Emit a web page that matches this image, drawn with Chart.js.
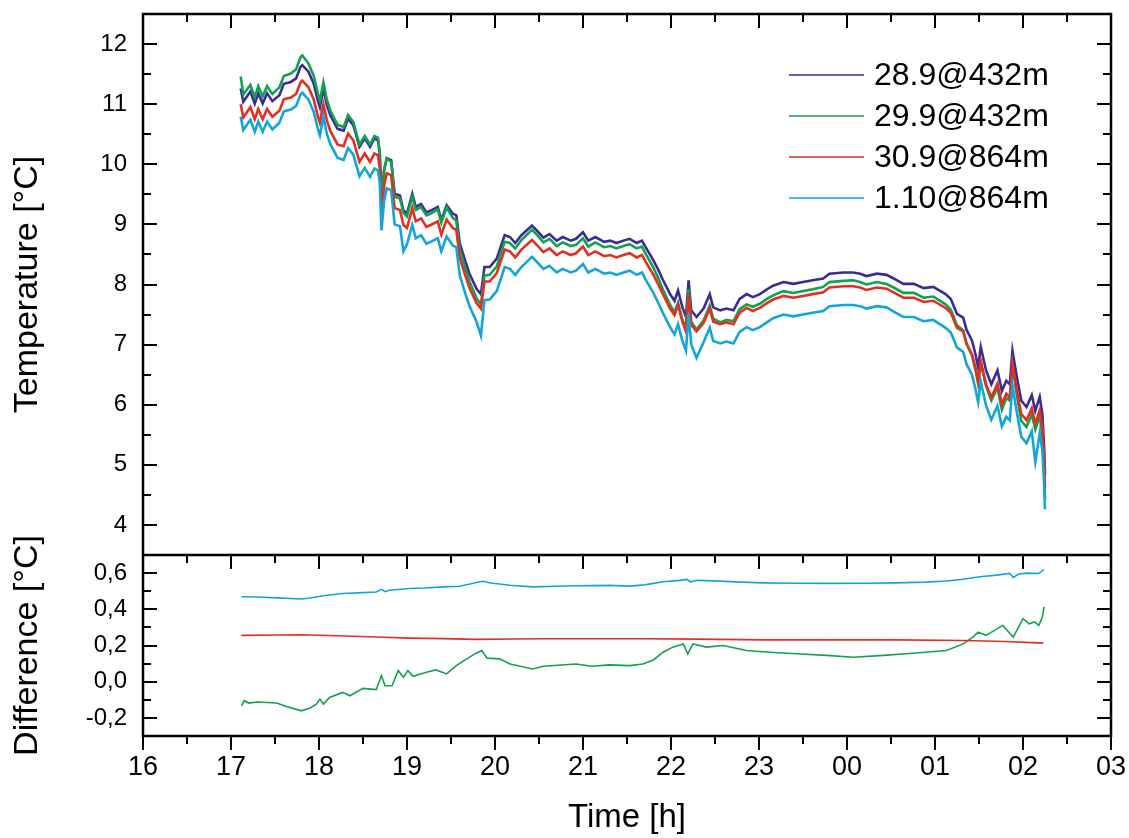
<!DOCTYPE html>
<html>
<head>
<meta charset="utf-8">
<script src="https://cdn.jsdelivr.net/npm/chart.js@4.4.0/dist/chart.umd.min.js"></script>
<style>
html,body{margin:0;padding:0;background:#fff;}
#wrap{position:relative;width:1129px;height:838px;}
canvas{display:block;}
</style>
</head>
<body>
<div id="wrap"><canvas id="c" width="1129" height="838"></canvas></div>
<script>
// ---------- data (hours; values past 24 are after midnight) ----------
const seriesNames = ['28.9@432m', '29.9@432m', '30.9@864m', '1.10@864m'];

const tTemp = [
  17.11,17.14,17.22,17.27,17.31,17.36,17.41,17.47,17.55,17.60,
  17.68,17.74,17.79,17.81,17.88,17.94,17.99,18.01,18.05,18.09,
  18.13,18.21,18.28,18.33,18.39,18.46,18.52,18.58,18.63,18.67,
  18.69,18.71,18.74,18.77,18.82,18.86,18.92,18.96,19.00,19.06,
  19.10,19.16,19.22,19.27,19.35,19.39,19.45,19.52,19.56,19.60,
  19.66,19.71,19.79,19.84,19.88,19.94,20.02,20.11,20.17,20.23,
  20.30,20.42,20.48,20.55,20.62,20.70,20.77,20.86,20.92,21.00,
  21.06,21.14,21.24,21.31,21.38,21.46,21.53,21.61,21.67,21.72,
  21.80,21.86,21.91,21.99,22.04,22.08,22.13,22.17,22.20,22.23,
  22.29,22.37,22.44,22.48,22.56,22.63,22.71,22.78,22.86,22.93,
  23.01,23.09,23.16,23.28,23.39,23.50,23.61,23.73,23.80,23.96,
  24.07,24.15,24.22,24.34,24.45,24.53,24.64,24.76,24.87,24.98,
  25.12,25.18,25.25,25.32,25.36,25.42,25.46,25.49,25.52,25.58,
  25.64,25.71,25.76,25.81,25.85,25.88,25.93,25.98,26.04,26.10,
  26.14,26.19,26.22,26.24,26.25
];

const temp289 = [
  11.26,11.04,11.21,11.01,11.18,11.01,11.18,11.05,11.15,11.34,
  11.37,11.43,11.62,11.65,11.54,11.34,11.04,10.95,11.26,10.98,
  10.81,10.59,10.56,10.76,10.65,10.29,10.43,10.29,10.43,10.40,
  10.20,9.40,9.90,10.10,10.07,9.51,9.48,9.23,9.18,9.51,
  9.29,9.34,9.20,9.23,9.29,9.07,9.32,9.18,9.15,8.68,
  8.40,8.18,7.93,7.84,8.29,8.29,8.43,8.82,8.79,8.69,
  8.82,8.98,8.89,8.78,8.84,8.73,8.79,8.73,8.76,8.87,
  8.73,8.79,8.71,8.73,8.69,8.73,8.76,8.69,8.73,8.60,
  8.40,8.23,8.07,7.84,7.73,7.90,7.62,7.46,8.07,7.57,
  7.46,7.60,7.84,7.62,7.57,7.60,7.57,7.76,7.84,7.79,
  7.84,7.92,7.98,8.04,8.01,8.04,8.07,8.10,8.18,8.20,
  8.20,8.18,8.14,8.18,8.16,8.10,8.01,8.01,7.94,7.96,
  7.84,7.76,7.51,7.45,7.24,7.07,6.84,6.62,6.96,6.57,
  6.34,6.57,6.23,6.40,6.34,6.90,6.46,6.07,5.96,6.16,
  5.90,6.13,5.84,5.29,4.84
];

const temp299 = [
  11.46,11.16,11.32,11.12,11.30,11.13,11.30,11.17,11.28,11.47,
  11.51,11.58,11.78,11.81,11.68,11.47,11.16,11.06,11.36,11.07,
  10.89,10.66,10.62,10.82,10.70,10.33,10.47,10.33,10.47,10.44,
  10.20,9.37,9.92,10.10,10.04,9.46,9.43,9.19,9.13,9.46,
  9.24,9.29,9.15,9.18,9.25,9.03,9.28,9.11,9.06,8.58,
  8.28,8.05,7.77,7.67,8.15,8.16,8.30,8.71,8.69,8.60,
  8.74,8.91,8.82,8.70,8.76,8.64,8.70,8.64,8.66,8.77,
  8.63,8.70,8.62,8.64,8.60,8.64,8.67,8.60,8.63,8.49,
  8.28,8.09,7.91,7.66,7.54,7.70,7.41,7.29,7.92,7.38,
  7.25,7.40,7.65,7.43,7.37,7.41,7.39,7.59,7.67,7.63,
  7.68,7.76,7.82,7.89,7.86,7.89,7.92,7.96,8.04,8.06,
  8.07,8.04,8.00,8.04,8.01,7.95,7.86,7.86,7.78,7.80,
  7.67,7.58,7.32,7.24,7.01,6.82,6.58,6.35,6.69,6.31,
  6.07,6.28,5.92,6.11,6.07,6.65,6.16,5.73,5.63,5.84,
  5.59,5.81,5.48,4.91,4.43
];

const temp309 = [
  11.00,10.78,10.95,10.75,10.92,10.75,10.92,10.79,10.89,11.08,
  11.11,11.17,11.36,11.39,11.28,11.08,10.78,10.69,11.00,10.72,
  10.55,10.33,10.30,10.51,10.40,10.04,10.18,10.04,10.18,10.15,
  9.95,9.15,9.65,9.85,9.82,9.27,9.24,8.99,8.94,9.27,
  9.05,9.10,8.96,8.99,9.05,8.83,9.08,8.94,8.91,8.44,
  8.16,7.94,7.69,7.60,8.05,8.05,8.19,8.58,8.55,8.45,
  8.58,8.74,8.65,8.54,8.60,8.49,8.55,8.49,8.52,8.63,
  8.49,8.55,8.47,8.49,8.45,8.49,8.52,8.45,8.49,8.36,
  8.16,7.99,7.83,7.60,7.49,7.66,7.38,7.22,7.83,7.33,
  7.22,7.36,7.60,7.38,7.34,7.37,7.34,7.53,7.61,7.56,
  7.61,7.69,7.75,7.81,7.78,7.81,7.84,7.87,7.95,7.97,
  7.97,7.95,7.91,7.95,7.93,7.87,7.78,7.78,7.71,7.73,
  7.61,7.53,7.28,7.22,7.01,6.84,6.61,6.39,6.73,6.34,
  6.12,6.35,6.01,6.18,6.12,6.68,6.24,5.85,5.74,5.94,
  5.68,5.91,5.62,5.07,4.62
];

const temp110 = [
  10.79,10.57,10.74,10.54,10.71,10.54,10.71,10.58,10.69,10.88,
  10.91,10.97,11.16,11.19,11.08,10.87,10.57,10.48,10.79,10.50,
  10.33,10.11,10.07,10.27,10.16,9.80,9.94,9.79,9.93,9.90,
  9.70,8.90,9.40,9.60,9.57,9.00,8.97,8.55,8.67,8.99,
  8.77,8.82,8.68,8.71,8.77,8.55,8.80,8.65,8.62,8.15,
  7.86,7.64,7.38,7.15,7.74,7.75,7.89,8.29,8.26,8.16,
  8.29,8.46,8.37,8.26,8.31,8.20,8.26,8.20,8.23,8.34,
  8.20,8.26,8.18,8.20,8.16,8.20,8.23,8.16,8.20,8.06,
  7.86,7.68,7.52,7.29,7.17,7.34,7.06,6.90,7.51,7.00,
  6.78,7.04,7.28,7.06,7.02,7.05,7.02,7.21,7.29,7.24,
  7.29,7.37,7.44,7.50,7.47,7.50,7.53,7.56,7.64,7.66,
  7.66,7.64,7.60,7.64,7.62,7.55,7.46,7.46,7.39,7.41,
  7.28,7.20,6.95,6.88,6.67,6.50,6.26,6.04,6.38,5.99,
  5.75,5.98,5.64,5.80,5.74,6.32,5.87,5.47,5.36,5.56,
  5.05,5.53,5.24,4.67,4.26
];

const tDiffC = [17.12,17.3,17.52,17.8,17.9,18.05,18.27,18.5,18.65,18.71,18.75,18.8,19.03,19.2,19.41,19.6,19.79,19.86,19.95,20.17,20.43,20.7,20.92,21.3,21.53,21.7,21.91,22.1,22.18,22.22,22.3,22.48,22.8,23.05,23.4,23.81,24.2,24.56,24.9,25.13,25.3,25.51,25.7,25.85,25.89,25.95,26.05,26.18,26.24];
const diff110 = [0.469,0.468,0.463,0.457,0.462,0.475,0.487,0.492,0.496,0.51,0.497,0.505,0.515,0.518,0.524,0.527,0.548,0.555,0.545,0.533,0.524,0.527,0.53,0.532,0.528,0.535,0.552,0.56,0.565,0.552,0.56,0.557,0.55,0.546,0.544,0.543,0.544,0.546,0.55,0.556,0.565,0.58,0.589,0.598,0.576,0.595,0.60,0.598,0.62];

const tDiffR = [17.12,17.5,17.8,18.2,18.65,19.03,19.4,19.79,20.2,20.55,21.1,21.68,22.3,23.05,24.0,24.56,25.32,25.8,26.23];
const diff309 = [0.256,0.258,0.259,0.254,0.247,0.241,0.238,0.234,0.236,0.237,0.237,0.237,0.235,0.231,0.231,0.231,0.228,0.222,0.213];

const tDiffG = [17.12,17.15,17.2,17.3,17.41,17.52,17.63,17.8,17.9,17.97,18.01,18.05,18.12,18.27,18.35,18.5,18.65,18.71,18.75,18.83,18.9,18.96,19.01,19.07,19.22,19.33,19.45,19.56,19.68,19.79,19.85,19.91,20.05,20.17,20.43,20.55,20.92,21.1,21.3,21.53,21.68,21.8,21.91,22.02,22.14,22.19,22.25,22.40,22.59,22.86,23.12,23.43,23.81,24.07,24.37,24.75,25.13,25.32,25.43,25.49,25.58,25.77,25.89,26.0,26.07,26.13,26.18,26.22,26.24];
const diff299 = [-0.133,-0.105,-0.118,-0.112,-0.115,-0.118,-0.137,-0.161,-0.145,-0.124,-0.096,-0.124,-0.087,-0.059,-0.078,-0.037,-0.044,0.034,-0.022,-0.022,0.061,0.024,0.061,0.030,0.052,0.065,0.043,0.089,0.126,0.159,0.172,0.13,0.126,0.098,0.070,0.085,0.098,0.085,0.093,0.089,0.098,0.12,0.163,0.191,0.209,0.154,0.209,0.191,0.2,0.172,0.163,0.154,0.144,0.135,0.144,0.157,0.172,0.209,0.246,0.274,0.256,0.311,0.246,0.348,0.32,0.33,0.311,0.357,0.413];

const xTickValues = [16,17,18,19,20,21,22,23,24,25,26,27];
const xTickLabels = ['16','17','18','19','20','21','22','23','00','01','02','03'];
const tempTickValues = [4,5,6,7,8,9,10,11,12];
const diffTickValues = [-0.2,0,0.2,0.4,0.6];

// ---------- styling ----------
const COLORS = ['#3b2b97', '#12a052', '#e0301f', '#14a5d8'];
const FONT = "'Liberation Sans', Arial, sans-serif";

const pts = (ts, vs) => ts.map((t, i) => ({x: t, y: vs[i]}));

const tempSets = [temp289, temp299, temp309, temp110].map((vals, i) => ({
  label: seriesNames[i],
  data: pts(tTemp, vals),
  yAxisID: 'y',
  borderColor: COLORS[i],
  borderWidth: 2.6,
  pointRadius: 0,
  order: 10 - i
}));

const diffSets = [
  {label: 'diff ' + seriesNames[3], data: pts(tDiffC, diff110), color: COLORS[3]},
  {label: 'diff ' + seriesNames[2], data: pts(tDiffR, diff309), color: COLORS[2]},
  {label: 'diff ' + seriesNames[1], data: pts(tDiffG, diff299), color: COLORS[1]}
].map(d => ({
  label: d.label, data: d.data, yAxisID: 'y2', borderColor: d.color,
  borderWidth: 1.6, pointRadius: 0, order: 1
}));

const framePlugin = {
  id: 'frame',
  afterDatasetsDraw(chart) {
    const {ctx, chartArea: a, scales: {x, y, y2}} = chart;
    ctx.save();
    ctx.strokeStyle = '#000';
    ctx.lineCap = 'butt';
    const seg = (x1, y1, x2, y2_) => { ctx.beginPath(); ctx.moveTo(x1, y1); ctx.lineTo(x2, y2_); ctx.stroke(); };
    const MAJ = 14, MIN = 8;
    ctx.lineWidth = 2;
    // x ticks
    xTickValues.forEach((v, i) => {
      const px = Math.round(x.getPixelForValue(v));
      seg(px, y.top, px, y.top + MAJ);
      seg(px, y2.top, px, y2.top + MAJ);
      seg(px, y2.bottom, px, y2.bottom + MAJ);
      if (i < xTickValues.length - 1) {
        const pm = Math.round(x.getPixelForValue((v + xTickValues[i + 1]) / 2));
        seg(pm, y.top, pm, y.top + MIN);
        seg(pm, y2.top, pm, y2.top + MIN);
        seg(pm, y2.bottom, pm, y2.bottom + MIN);
      }
    });
    // y ticks on both sides
    const yTicks = (scale, vals) => {
      vals.forEach((v, i) => {
        const py = Math.round(scale.getPixelForValue(v));
        seg(a.left, py, a.left + MAJ, py);
        seg(a.right, py, a.right - MAJ, py);
        const step = i < vals.length - 1 ? vals[i + 1] - v : vals[1] - vals[0];
        [v - step / 2, v + step / 2].forEach(m => {
          if (i > 0 && m < v) return;
          const pm = Math.round(scale.getPixelForValue(m));
          if (pm <= scale.top + 1 || pm >= scale.bottom - 1) return;
          seg(a.left, pm, a.left + MIN, pm);
          seg(a.right, pm, a.right - MIN, pm);
        });
      });
    };
    yTicks(y, tempTickValues);
    yTicks(y2, diffTickValues);
    // frame
    ctx.lineWidth = 2.5;
    ctx.strokeRect(a.left, a.top, a.right - a.left, a.bottom - a.top);
    seg(a.left, y.bottom, a.right, y.bottom);
    // axis titles (vertical)
    ctx.fillStyle = '#000';
    ctx.font = '34px ' + FONT;
    ctx.textAlign = 'center';
    ctx.textBaseline = 'middle';
    [[y, 'Temperature [\u00B0C]'], [y2, 'Difference [\u00B0C]']].forEach(([s, txt]) => {
      ctx.save();
      ctx.translate(28, (s.top + s.bottom) / 2);
      ctx.rotate(-Math.PI / 2);
      ctx.fillText(txt, 0, 0);
      ctx.restore();
    });
    // legend
    ctx.font = '32px ' + FONT;
    ctx.textAlign = 'left';
    const rowY = [75, 116, 157, 198];
    tempSets.forEach((ds, i) => {
      ctx.strokeStyle = ds.borderColor;
      ctx.lineWidth = 1.6;
      seg(789, rowY[i], 864, rowY[i]);
      ctx.fillText(ds.label, 874, rowY[i] + 1);
    });
    ctx.restore();
  }
};

const fitY = s => { s.width = 143; s.paddingTop = 0; s.paddingBottom = 0; };

new Chart(document.getElementById('c'), {
  type: 'line',
  data: {datasets: [...tempSets, ...diffSets]},
  options: {
    responsive: false,
    animation: false,
    devicePixelRatio: 1,
    parsing: false,
    normalized: true,
    layout: {padding: {top: 14, right: 18, left: 0, bottom: 0}},
    plugins: {legend: {display: false}, tooltip: {enabled: false}},
    elements: {line: {tension: 0}, point: {radius: 0}},
    scales: {
      x: {
        type: 'linear', position: 'bottom', min: 16, max: 27,
        afterBuildTicks: s => { s.ticks = xTickValues.map(v => ({value: v})); },
        afterFit: s => { s.height = 102; s.paddingLeft = 0; s.paddingRight = 0; },
        grid: {display: false, drawTicks: false},
        border: {display: false},
        ticks: {
          padding: 15, color: '#000', font: {family: FONT, size: 27},
          maxRotation: 0, autoSkip: false,
          callback: (v, i) => xTickLabels[i]
        },
        title: {display: true, text: 'Time [h]', color: '#000', font: {family: FONT, size: 33}, padding: {top: 0, bottom: 0}}
      },
      y: {
        type: 'linear', position: 'left', stack: 'panels', stackWeight: 541, weight: 2,
        min: 3.5, max: 12.5,
        afterBuildTicks: s => { s.ticks = tempTickValues.map(v => ({value: v})); },
        afterFit: fitY,
        grid: {display: false, drawTicks: false},
        border: {display: false},
        ticks: {padding: 16, color: '#000', font: {family: FONT, size: 24}, autoSkip: false}
      },
      y2: {
        type: 'linear', position: 'left', stack: 'panels', stackWeight: 181, weight: 1,
        min: -0.3, max: 0.7,
        afterBuildTicks: s => { s.ticks = diffTickValues.map(v => ({value: v})); },
        afterFit: fitY,
        grid: {display: false, drawTicks: false},
        border: {display: false},
        ticks: {
          padding: 16, color: '#000', font: {family: FONT, size: 24}, autoSkip: false,
          callback: v => v.toFixed(1).replace('.', ',')
        }
      }
    }
  },
  plugins: [framePlugin]
});
</script>
</body>
</html>
